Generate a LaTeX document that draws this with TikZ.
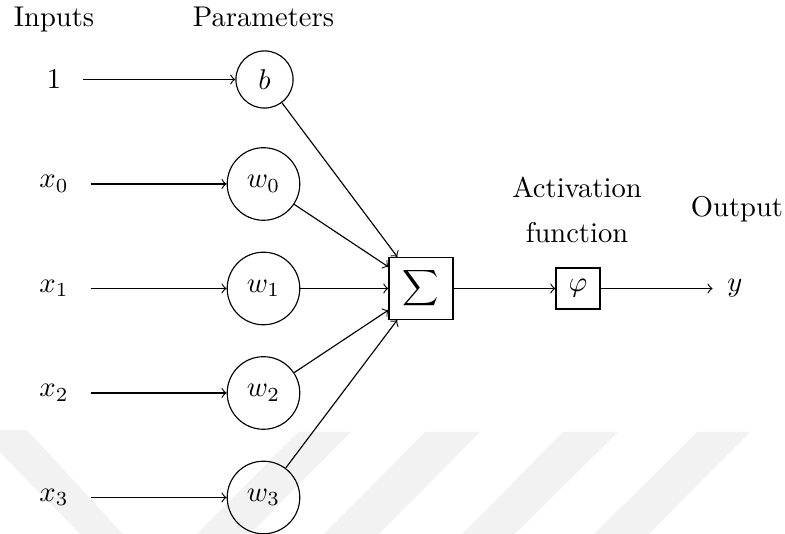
\documentclass[tikz,border=0pt]{standalone}
\begin{document}
\begin{tikzpicture}[x=0.35pt,y=-0.35pt,
  wm/.style={fill=black!5,draw=none},
  inlab/.style={inner sep=3.33pt},
  wnode/.style={circle,draw,minimum size=25.4pt,inner sep=0pt},
  bnode/.style={circle,draw,minimum size=20pt,inner sep=0pt},
  sumbox/.style={draw,rectangle,minimum width=22.4pt,minimum height=21.7pt,inner sep=0pt},
  phibox/.style={draw,rectangle,minimum width=15.4pt,minimum height=14.35pt,inner sep=0pt},
  conn/.style={->},
  inarrow/.style={->,shorten <=4.2pt},
  heading/.style={anchor=base}
]
\useasboundingbox (0,0) rectangle (785,534);
% faint watermark stripes
\begin{scope}
\clip (0,0) rectangle (785,534);
\fill[wm] (-22,430) -- (27,430) -- (123,534) -- (80,534) -- cycle;
\fill[wm] (298,432) -- (351,432) -- (250,534) -- (197,534) -- cycle;
\fill[wm] (425,432) -- (480,432) -- (379,534) -- (324,534) -- cycle;
\fill[wm] (563,432) -- (618,432) -- (515,534) -- (462,534) -- cycle;
\fill[wm] (697,432) -- (750,432) -- (649,534) -- (594,534) -- cycle;
\end{scope}

% headings
\node[heading] (hin) at (54,26.7) {Inputs};
\node[heading] (hpar) at (263.5,26.7) {Parameters};
\node[align=center] (hact) at (577,209.8) {Activation\\[3.7pt]function};
\node[heading] (hout) at (737,217) {Output};

% inputs
\node[inlab] (i0) at (54,79.5) {$1$};
\node[inlab] (i1) at (54,184) {$x_0$};
\node[inlab] (i2) at (54,288.5) {$x_1$};
\node[inlab] (i3) at (54,393) {$x_2$};
\node[inlab] (i4) at (54,497.5) {$x_3$};

% parameters
\node[bnode] (b) at (264.5,79.5) {$b$};
\node[wnode] (w0) at (263.5,184) {$w_0$};
\node[wnode] (w1) at (263.5,288.5) {$w_1$};
\node[wnode] (w2) at (263.5,393) {$w_2$};
\node[wnode] (w3) at (263.5,497.5) {$w_3$};

% sum, activation, output
\node[sumbox] (sum) at (421,288.5) {\scalebox{0.88}{$\displaystyle\sum$}};
\node[phibox] (phi) at (578,288.5) {$\varphi$};
\node[inner sep=5pt] (y) at (735,288.5) {$y$};

% connectors
\draw[inarrow] (i0) -- (b);
\draw[inarrow] (i1) -- (w0);
\draw[inarrow] (i2) -- (w1);
\draw[inarrow] (i3) -- (w2);
\draw[inarrow] (i4) -- (w3);
\draw[conn] (b) -- (sum);
\draw[conn] (w0) -- (sum);
\draw[conn] (w1) -- (sum);
\draw[conn] (w2) -- (sum);
\draw[conn] (w3) -- (sum);
\draw[conn] (sum) -- (phi);
\draw[conn] (phi) -- (y);
\end{tikzpicture}
\end{document}
